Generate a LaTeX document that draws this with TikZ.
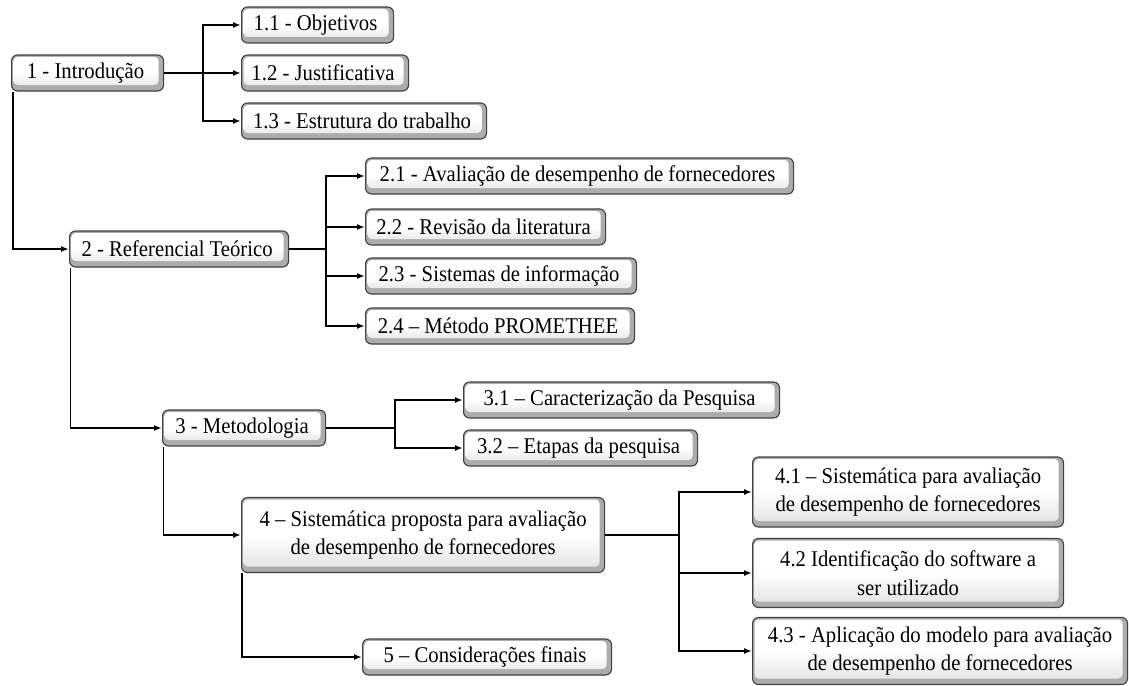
\documentclass[tikz,border=0pt]{standalone}
\usepackage{fontspec}
\setmainfont{Liberation Serif}[FakeStretch=0.92]
\usetikzlibrary{arrows.meta}
\tikzset{
  box/.style={draw=black!75, line width=1.1pt, rounded corners=6pt, fill=gray!65,
    inner sep=0pt, minimum height=36pt, anchor=west, align=center,
    font=\fontsize{22.5}{28.5}\selectfont,
    path picture={\shade[top color=white, bottom color=gray!25, middle color=white, rounded corners=4pt]
      ([xshift=2pt,yshift=-2pt]path picture bounding box.north west) rectangle
      ([xshift=-5pt,yshift=6pt]path picture bounding box.south east);}},
  conn/.style={line width=1.8pt, black},
  arr/.style={conn, -{Latex[length=8pt,width=6pt]}}
}
\begin{document}
\begin{tikzpicture}[x=1pt,y=-1pt]
\useasboundingbox (0,0) rectangle (1129,685);
\coordinate (t1) at (203,73);
\coordinate (t2) at (326,249);
\coordinate (t3) at (395,428);
\coordinate (t4) at (679,535);

\node[box, minimum width=152pt] (intro) at (11,73) {1 - Introdução\hspace{4pt}};
\node[box, minimum width=152pt] (o11) at (241,25) {1.1 - Objetivos\hspace{4pt}};
\node[box, minimum width=167pt] (o12) at (241,73) {1.2 - Justificativa\hspace{4pt}};
\node[box, minimum width=245pt] (o13) at (241,121) {1.3 - Estrutura do trabalho\hspace{4pt}};

\node[box, minimum width=219pt] (ref) at (69,249) {2 - Referencial Teórico\hspace{4pt}};
\node[box, minimum width=428pt] (r21) at (365,176) {2.1 - Avaliação de desempenho de fornecedores\hspace{4pt}};
\node[box, minimum width=240pt] (r22) at (365,227) {2.2 - Revisão da literatura\hspace{4pt}};
\node[box, minimum width=271pt] (r23) at (365,276) {2.3 - Sistemas de informação\hspace{4pt}};
\node[box, minimum width=269pt] (r24) at (365,326) {2.4 – Método PROMETHEE\hspace{4pt}};

\node[box, minimum width=163pt] (met) at (162,428) {3 - Metodologia\hspace{4pt}};
\node[box, minimum width=316pt] (m31) at (463,400) {3.1 – Caracterização da Pesquisa\hspace{4pt}};
\node[box, minimum width=234pt] (m32) at (463,448) {3.2 – Etapas da pesquisa\hspace{4pt}};

\node[box, minimum width=363pt, minimum height=75pt] (s4) at (241,535) {4 – Sistemática proposta para avaliação\\de desempenho de fornecedores\hspace{4pt}};
\node[box, minimum width=311pt, minimum height=70pt] (s41) at (752,492) {4.1 – Sistemática para avaliação\\de desempenho de fornecedores\hspace{4pt}};
\node[box, minimum width=311pt, minimum height=69pt] (s42) at (752,573) {4.2 Identificação do software a\\ser utilizado\hspace{4pt}};
\node[box, minimum width=375pt, minimum height=67pt] (s43) at (752,651) {4.3 - Aplicação do modelo para avaliação\\de desempenho de fornecedores\hspace{4pt}};
\node[box, minimum width=249pt] (s5) at (362,657) {5 – Considerações finais\hspace{4pt}};

% level 1
\draw[conn] (intro.east) -- (t1);
\draw[arr] (t1) |- (o11.west);
\draw[arr] (t1) -- (o12.west);
\draw[arr] (t1) |- (o13.west);
\draw[arr] ([xshift=2pt]intro.south west) |- (ref.west);
% level 2
\draw[conn] (ref.east) -- (t2);
\draw[arr] (t2) |- (r21.west);
\draw[arr] (t2) |- (r22.west);
\draw[arr] (t2) |- (r23.west);
\draw[arr] (t2) |- (r24.west);
\draw[arr] ([xshift=1.5pt]ref.south west) |- (met.west);
% level 3
\draw[conn] (met.east) -- (t3);
\draw[arr] (t3) |- (m31.west);
\draw[arr] (t3) |- (m32.west);
\draw[arr] ([xshift=1.5pt]met.south west) |- (s4.west);
% level 4
\draw[conn] (s4.east) -- (t4);
\draw[arr] (t4) |- (s41.west);
\draw[arr] (t4) |- (s42.west);
\draw[arr] (t4) |- (s43.west);
\draw[arr] ([xshift=1pt]s4.south west) |- (s5.west);
\end{tikzpicture}
\end{document}
